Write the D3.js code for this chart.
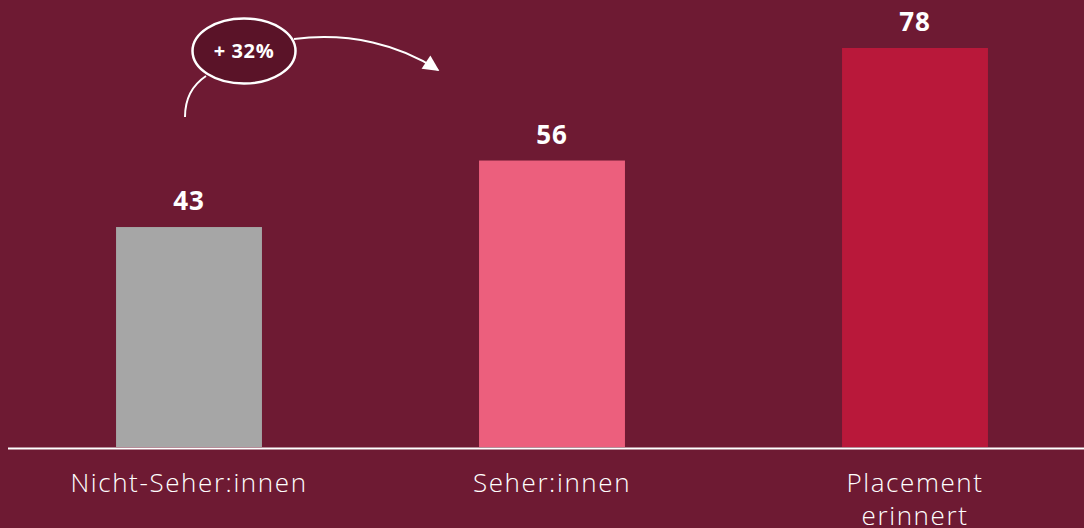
<!DOCTYPE html>
<html><head><meta charset="utf-8">
<script src="https://cdn.jsdelivr.net/npm/d3@7"></script>
<style>html,body{margin:0;padding:0;background:#6e1a33;}svg{display:block;}</style>
</head><body>
<svg id="c" width="1084" height="528"></svg>
<script>
const categories = ["Nicht-Seher:innen", "Seher:innen", "Placement erinnert"];
const values = [43, 56, 78];
const colors = ["#a6a6a6", "#ec5f7d", "#b9183a"];
const annotationText = "+ 32%";

const W = 1084, H = 528;
const svg = d3.select("#c");
svg.append("rect").attr("width", W).attr("height", H).attr("fill", "#6e1a33");

const x = d3.scaleBand().domain(categories).range([7.5, 1096.5]).paddingInner(0.598).paddingOuter(0.299);
const y = d3.scaleLinear().domain([0, 78]).range([447, 48]);

svg.selectAll("rect.bar").data(values).enter().append("rect")
  .attr("class", "bar")
  .attr("x", (d, i) => x(categories[i]))
  .attr("width", x.bandwidth())
  .attr("y", d => y(d))
  .attr("height", d => y(0) - y(d))
  .attr("fill", (d, i) => colors[i]);

svg.selectAll("text.val").data(values).enter().append("text")
  .attr("class", "val")
  .attr("x", (d, i) => x(categories[i]) + x.bandwidth() / 2)
  .attr("y", d => y(d) - 17)
  .attr("text-anchor", "middle")
  .attr("fill", "#fff")
  .attr("font-family", "Open Sans, sans-serif")
  .attr("font-weight", 700)
  .attr("font-size", 26)
  .attr("letter-spacing", 1)
  .text(d => d);

// baseline axis
const axis = d3.axisBottom(x).tickSize(0).tickFormat("");
const ag = svg.append("g").attr("transform", "translate(0,448.5)").call(axis);
ag.select(".domain").attr("d", "M8,0H1084").attr("stroke", "#fff").attr("stroke-width", 2);

// category labels
const labG = svg.append("g");
categories.forEach(c => {
  const words = c === "Placement erinnert" ? ["Placement", "erinnert"] : [c];
  const t = labG.append("text")
    .attr("x", x(c) + x.bandwidth() / 2)
    .attr("y", 492)
    .attr("text-anchor", "middle")
    .attr("fill", "#fff")
    .attr("font-family", "Open Sans, sans-serif")
    .attr("font-weight", 300)
    .attr("font-size", 26)
    .attr("letter-spacing", 1.6);
  words.forEach((w, i) => t.append("tspan").attr("x", x(c) + x.bandwidth() / 2).attr("dy", i ? 33 : 0).text(w));
});

// annotation
const defs = svg.append("defs");
defs.append("marker").attr("id", "ah").attr("viewBox", "0 0 10 10").attr("refX", 9).attr("refY", 5)
  .attr("markerWidth", 22).attr("markerHeight", 16).attr("markerUnits", "userSpaceOnUse")
  .attr("orient", "auto")
  .append("path").attr("d", "M0,0L10,5L0,10Z").attr("fill", "#fff");

svg.append("path").attr("d", "M185,117 C185,97 194,84 206,76")
  .attr("fill", "none").attr("stroke", "#fff").attr("stroke-width", 2);
svg.append("path").attr("d", "M294,39 C350,32 400,45 438,70")
  .attr("fill", "none").attr("stroke", "#fff").attr("stroke-width", 2)
  .attr("marker-end", "url(#ah)");
svg.append("ellipse").attr("cx", 244).attr("cy", 51).attr("rx", 51.5).attr("ry", 32.5)
  .attr("fill", "#5a1328").attr("stroke", "#fff").attr("stroke-width", 2.5);
svg.append("text").attr("x", 244).attr("y", 58).attr("text-anchor", "middle")
  .attr("fill", "#fff").attr("font-family", "Open Sans, sans-serif").attr("font-weight", 700)
  .attr("font-size", 20).attr("letter-spacing", 0.6).text(annotationText);
</script>
</body></html>
